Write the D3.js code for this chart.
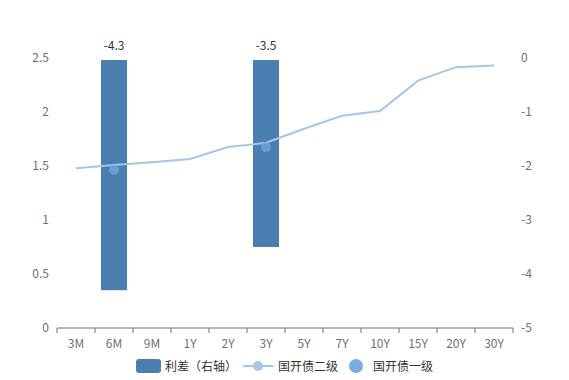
<!DOCTYPE html>
<html>
<head>
<meta charset="utf-8">
<script src="https://cdn.jsdelivr.net/npm/d3@7"></script>
<style>
  body { margin: 0; background: #fff; }
  text { font-family: "Noto Sans CJK SC", "Noto Sans", sans-serif; }
</style>
</head>
<body>
<div id="chart"></div>
<script>
// data
var categories = ["3M", "6M", "9M", "1Y", "2Y", "3Y", "5Y", "7Y", "10Y", "15Y", "20Y", "30Y"];
var level2 = [1.48, 1.51, 1.535, 1.565, 1.675, 1.715, 1.845, 1.965, 2.01, 2.29, 2.415, 2.43];
var level1Cats = ["6M", "3Y"];
var level1 = [1.465, 1.675];
var spreadCats = ["6M", "3Y"];
var spread = [-4.3, -3.5];
var leftTicks = [0, 0.5, 1, 1.5, 2, 2.5];
var rightTicks = [0, -1, -2, -3, -4, -5];

var width = 569, height = 380;
var margin = {top: 58, bottom: 52, left: 57, right: 56};

var svg = d3.select("#chart").append("svg")
    .attr("width", width)
    .attr("height", height);

var x = d3.scaleBand().domain(categories)
    .range([margin.left, width - margin.right]);
var yL = d3.scaleLinear().domain([0, 2.5])
    .range([height - margin.bottom, margin.top]);
var yR = d3.scaleLinear().domain([-5, 0])
    .range([height - margin.bottom, margin.top]);

var axisColor = "#6e7079";

// bars (right axis), hanging from 0
var barW = 26;
svg.selectAll("rect.bar").data(spread).enter()
    .append("rect")
    .attr("class", "bar")
    .attr("x", function (d, i) { return x(spreadCats[i]) + x.bandwidth() / 2 - barW / 2; })
    .attr("y", yR(0) + 2)
    .attr("width", barW)
    .attr("height", function (d) { return yR(d) - yR(0) - 2; })
    .attr("fill", "#4a7eb0");

svg.selectAll("text.barlab").data(spread).enter()
    .append("text")
    .attr("x", function (d, i) { return x(spreadCats[i]) + x.bandwidth() / 2; })
    .attr("y", yR(0) - 8)
    .attr("text-anchor", "middle")
    .attr("font-size", 12)
    .attr("fill", "#333")
    .text(function (d) { return d; });

// line 国开债二级
var line = d3.line()
    .x(function (d, i) { return x(categories[i]) + x.bandwidth() / 2; })
    .y(function (d) { return yL(d); });

svg.append("path")
    .datum(level2)
    .attr("d", line)
    .attr("fill", "none")
    .attr("stroke", "#a9c5e6")
    .attr("stroke-width", 2);

// scatter 国开债一级
svg.selectAll("circle.dot").data(level1).enter()
    .append("circle")
    .attr("class", "dot")
    .attr("cx", function (d, i) { return x(level1Cats[i]) + x.bandwidth() / 2; })
    .attr("cy", function (d) { return yL(d); })
    .attr("r", 5)
    .attr("fill", "#6fa5dc")
    .attr("opacity", 0.8);

// x axis
var xAxis = svg.append("g")
    .attr("transform", "translate(0," + (height - margin.bottom) + ")");
xAxis.append("line")
    .attr("x1", margin.left).attr("x2", width - margin.right)
    .attr("stroke", axisColor);
var tickPos = categories.map(function (c) { return x(c); }).concat([x.range()[1]]);
xAxis.selectAll("line.tick").data(tickPos).enter()
    .append("line")
    .attr("x1", function (d) { return d; })
    .attr("x2", function (d) { return d; })
    .attr("y1", 0).attr("y2", 5)
    .attr("stroke", axisColor);
xAxis.selectAll("text").data(categories).enter()
    .append("text")
    .attr("x", function (d) { return x(d) + x.bandwidth() / 2; })
    .attr("y", 20)
    .attr("text-anchor", "middle")
    .attr("font-size", 12)
    .attr("fill", axisColor)
    .text(function (d) { return d; });

// left axis labels
svg.selectAll("text.yl").data(leftTicks).enter()
    .append("text")
    .attr("class", "yl")
    .attr("x", margin.left - 8)
    .attr("y", function (d) { return yL(d) + 4; })
    .attr("text-anchor", "end")
    .attr("font-size", 12)
    .attr("fill", axisColor)
    .text(function (d) { return d; });

// right axis labels
svg.selectAll("text.yr").data(rightTicks).enter()
    .append("text")
    .attr("class", "yr")
    .attr("x", width - margin.right + 8)
    .attr("y", function (d) { return yR(d) + 4; })
    .attr("text-anchor", "start")
    .attr("font-size", 12)
    .attr("fill", axisColor)
    .text(function (d) { return d; });

// legend
var lg = svg.append("g").attr("transform", "translate(0,366)");
lg.append("rect")
    .attr("x", 136).attr("y", -7)
    .attr("width", 25).attr("height", 14)
    .attr("rx", 3)
    .attr("fill", "#4a7eb0");
lg.append("text").attr("x", 165).attr("y", 4.5)
    .attr("font-size", 12).attr("fill", "#333").text("利差（右轴）");
lg.append("line")
    .attr("x1", 243).attr("x2", 273)
    .attr("stroke", "#a9c5e6").attr("stroke-width", 2);
lg.append("circle")
    .attr("cx", 258).attr("cy", 0).attr("r", 5)
    .attr("fill", "#a9c5e6");
lg.append("text").attr("x", 278).attr("y", 4.5)
    .attr("font-size", 12).attr("fill", "#333").text("国开债二级");
lg.append("circle")
    .attr("cx", 356).attr("cy", 0).attr("r", 7)
    .attr("fill", "#7aaee0");
lg.append("text").attr("x", 373).attr("y", 4.5)
    .attr("font-size", 12).attr("fill", "#333").text("国开债一级");
</script>
</body>
</html>
